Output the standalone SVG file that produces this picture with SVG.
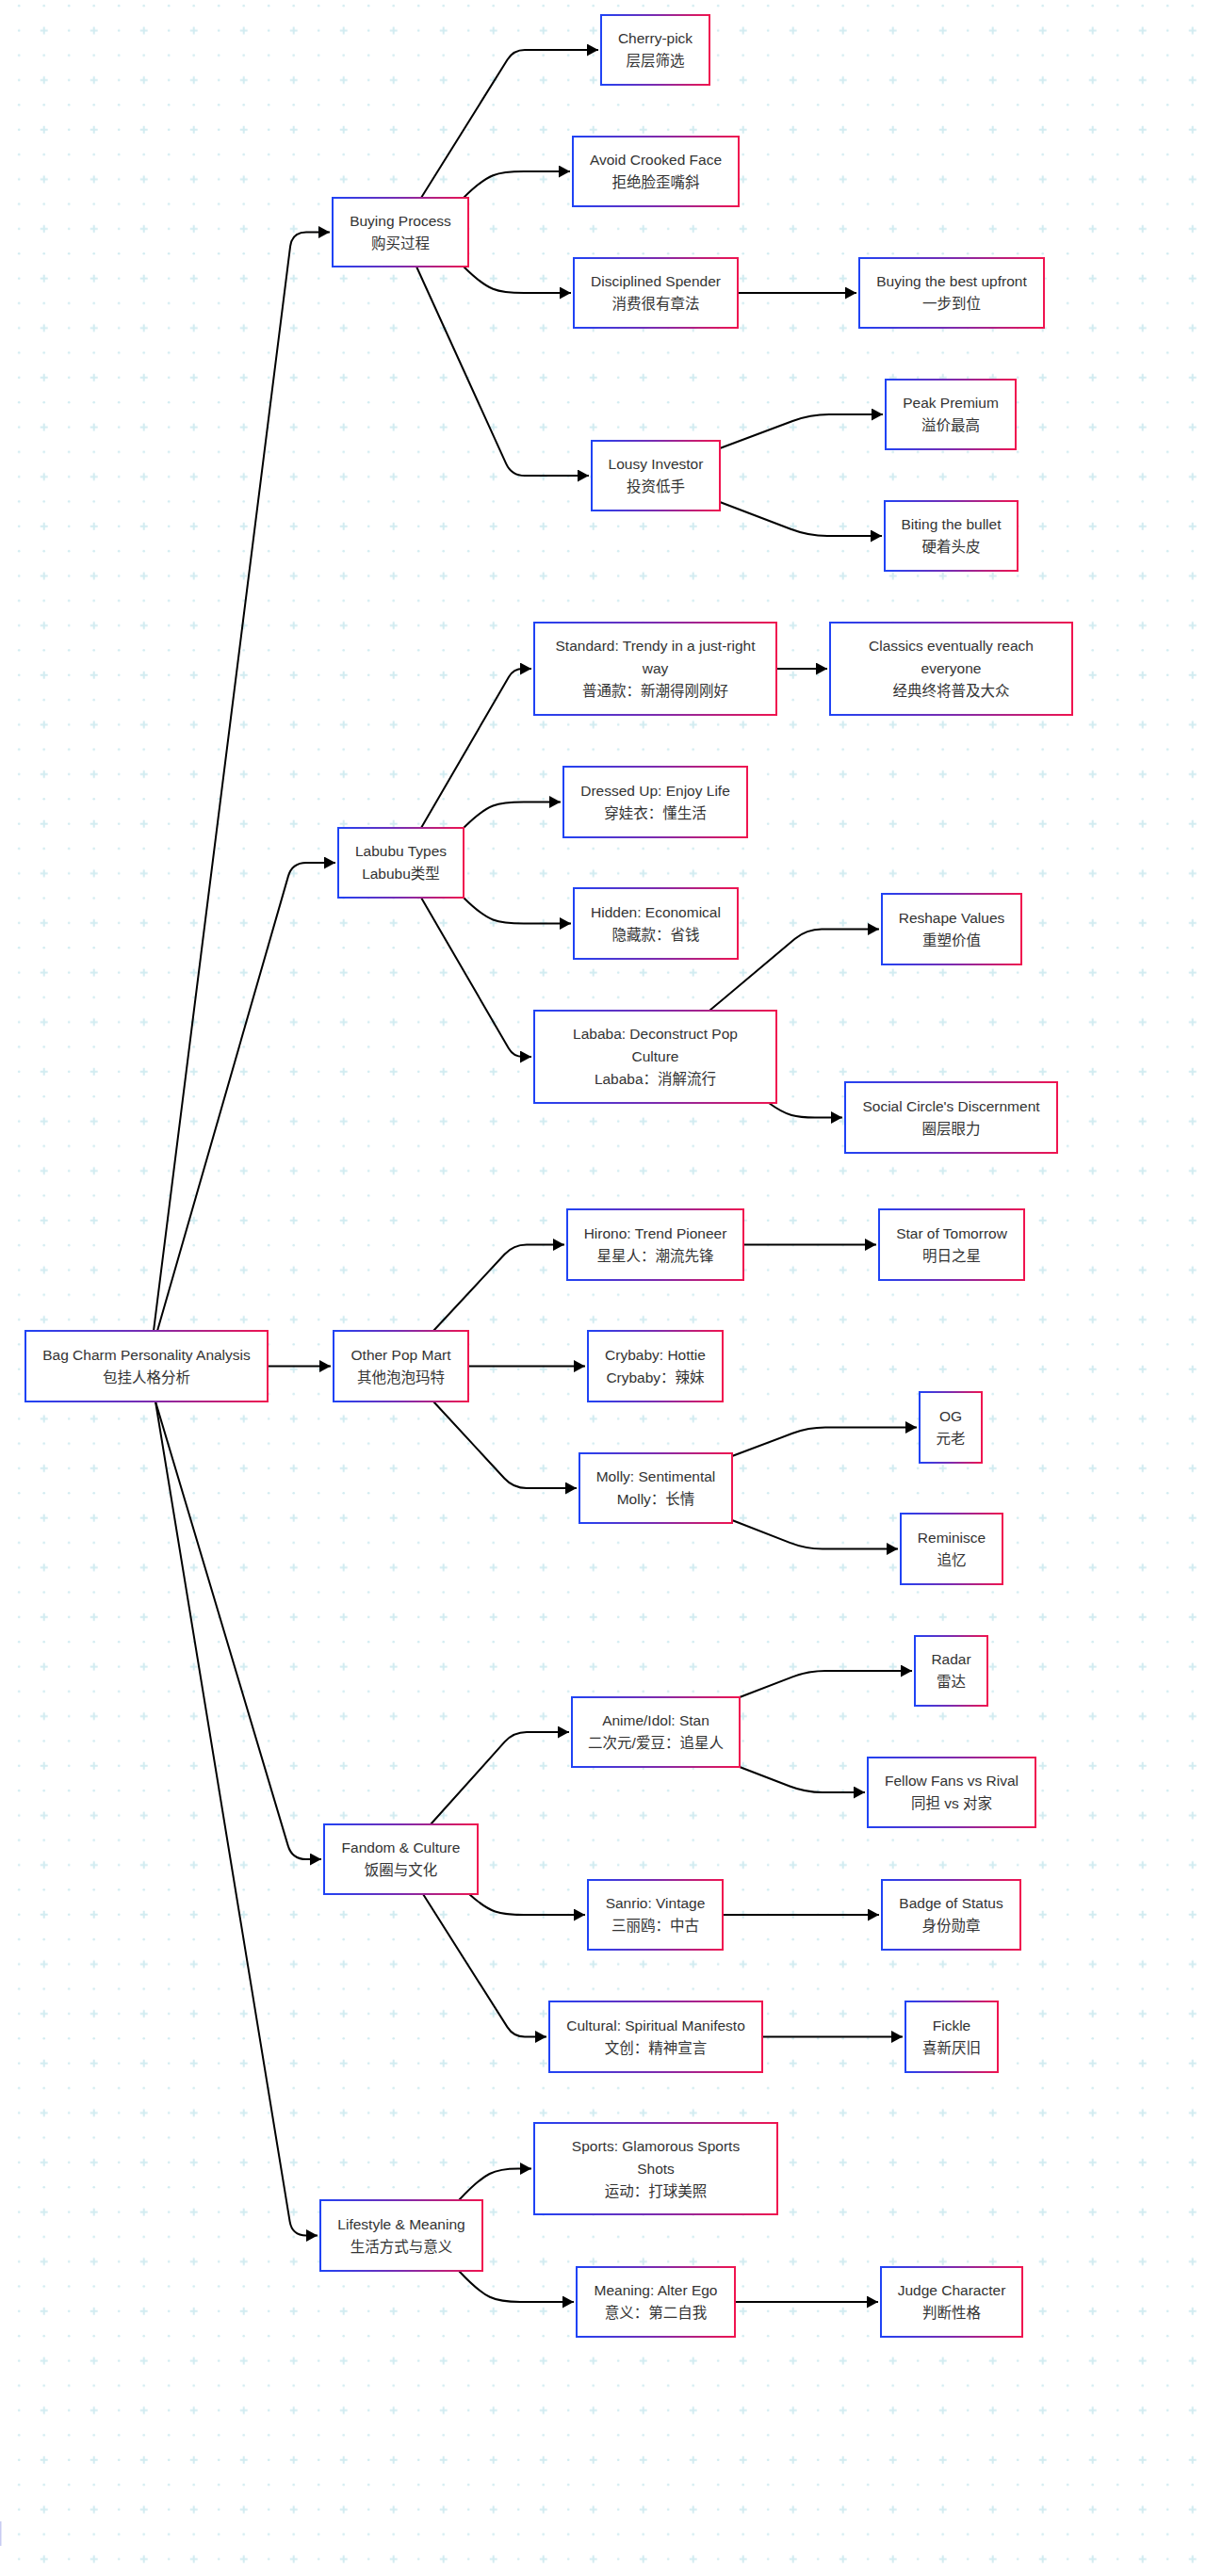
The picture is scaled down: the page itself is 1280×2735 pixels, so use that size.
<svg xmlns="http://www.w3.org/2000/svg" width="1280" height="2735" viewBox="0 0 1280 2735">
<style>
.nd rect{fill:#ffffff;stroke:url(#bd);stroke-width:2}
.nd text{font-family:"Liberation Sans",Arial,"Noto Sans CJK SC",sans-serif;font-size:15.5px;fill:#333333;text-anchor:middle}
.ed path{fill:none;stroke:#000000;stroke-width:2}
.ed .ar{marker-end:url(#ah)}
</style>
<defs>
<linearGradient id="bd" x1="0" y1="0" x2="1" y2="0">
<stop offset="0" stop-color="#1f43f5"/>
<stop offset="0.5" stop-color="#7a2bb0"/>
<stop offset="1" stop-color="#f0144f"/>
</linearGradient>
<pattern id="grid" patternUnits="userSpaceOnUse" x="6.95" y="-7.08" width="53" height="52.64">
<circle cx="13.25" cy="13.16" r="1.3" fill="#d2ecf1"/>
<circle cx="39.75" cy="13.16" r="1.3" fill="#d2ecf1"/>
<circle cx="13.25" cy="39.48" r="1.3" fill="#d2ecf1"/>
<path d="M35.75 39.48H43.75M39.75 35.48V43.48" stroke="#d2ecf1" stroke-width="2"/>
</pattern>
<marker id="ah" markerUnits="userSpaceOnUse" markerWidth="12" markerHeight="13" refX="12" refY="6.5" orient="auto">
<path d="M0,0 L12,6.5 L0,13 z" fill="#000000"/>
</marker>
</defs>
<rect x="0" y="0" width="1280" height="2735" fill="#ffffff"/>
<rect x="0" y="0" width="1280" height="2735" fill="url(#grid)"/>
<rect x="0" y="2677" width="1.5" height="26" fill="#c8cbf2"/>

<g id="connectors" class="ed">
<path class="ar" d="M163,1413 L308.1,261.4 Q310,246.5 325,246.5 L350,246.5"/>
<path class="ar" d="M167,1413 L305.9,930.4 Q310,916 325,916 L356,916"/>
<path class="ar" d="M284,1450.5 L351,1450.5"/>
<path class="ar" d="M165,1488 L305.7,1959.6 Q310,1974 325,1974 L341,1974"/>
<path class="ar" d="M165,1488 L307.6,2358.7 Q310,2373.5 325,2373.5 L337,2373.5"/>

<path class="ar" d="M447,210 L538.6,63.2 Q545,53 557,53 L635,53"/>
<path class="ar" d="M492,210 C518,184 528,182 556,182 L605,182"/>
<path class="ar" d="M492,283 C518,309 528,311 556,311 L606,311"/>
<path class="ar" d="M442,283 L537.2,492.3 Q543,505 557,505 L625,505"/>
<path class="ar" d="M783,311 L909,311"/>
<path class="ar" d="M764,476 L841.3,447 Q860,440 880,440 L937,440"/>
<path class="ar" d="M764,533 L839.3,561.8 Q858,569 878,569 L936,569"/>

<path class="ar" d="M447,879 L540,718.7 Q545,710 555,710 L564,710"/>
<path class="ar" d="M492,879 C518,853 528,851.5 556,851.5 L595,851.5"/>
<path class="ar" d="M492,953 C518,979 528,980.5 556,980.5 L606,980.5"/>
<path class="ar" d="M447,953 L540,1113.3 Q545,1122 555,1122 L564,1122"/>
<path class="ar" d="M824,710 L878,710"/>
<path class="ar" d="M753,1073 L843.7,996.8 Q856,986.5 872,986.5 L933,986.5"/>
<path class="ar" d="M816,1171 C835,1185 845,1186.5 865,1186.5 L894,1186.5"/>

<path class="ar" d="M460,1413 L535.5,1331.8 Q545,1321.5 559,1321.5 L599,1321.5"/>
<path class="ar" d="M497,1450.5 L621,1450.5"/>
<path class="ar" d="M460,1488 L535.5,1569.7 Q545,1580 559,1580 L612,1580"/>
<path class="ar" d="M789,1321.5 L930,1321.5"/>
<path class="ar" d="M777,1546 L841.2,1521.8 Q858,1515.5 876,1515.5 L973,1515.5"/>
<path class="ar" d="M777,1614 L838.2,1637.9 Q855,1644.5 873,1644.5 L953,1644.5"/>

<path class="ar" d="M457,1937 L535.6,1849.4 Q545,1839 559,1839 L604,1839"/>
<path class="ar" d="M498,2011 C520,2031 530,2033 556,2033 L621,2033"/>
<path class="ar" d="M449,2011 L538.6,2152.4 Q545,2162.5 557,2162.5 L580,2162.5"/>
<path class="ar" d="M785,1802 L841.2,1780.4 Q858,1774 876,1774 L968,1774"/>
<path class="ar" d="M785,1876 L838.2,1896.5 Q855,1903 873,1903 L918,1903"/>
<path class="ar" d="M767,2033 L933,2033"/>
<path class="ar" d="M809,2162.5 L958,2162.5"/>

<path class="ar" d="M487,2336 C515,2306 525,2302.5 550,2302.5 L564,2302.5"/>
<path class="ar" d="M487,2411 C515,2441 525,2444 552,2444 L609,2444"/>
<path class="ar" d="M780,2444 L932,2444"/>
</g>

<g id="root" class="nd"><rect x="27" y="1413" width="257" height="75"/><text x="155.5" y="1443.5">Bag Charm Personality Analysis</text><text x="155.5" y="1467.5">包挂人格分析</text></g>

<g id="buying" class="nd"><rect x="353" y="210" width="144" height="73"/><text x="425" y="239.5">Buying Process</text><text x="425" y="263.5">购买过程</text></g>
<g id="cherry" class="nd"><rect x="638" y="16" width="115" height="74"/><text x="695.5" y="46">Cherry-pick</text><text x="695.5" y="70">层层筛选</text></g>
<g id="avoid" class="nd"><rect x="608" y="145" width="176" height="74"/><text x="696" y="175">Avoid Crooked Face</text><text x="696" y="199">拒绝脸歪嘴斜</text></g>
<g id="disciplined" class="nd"><rect x="609" y="274" width="174" height="74"/><text x="696" y="304">Disciplined Spender</text><text x="696" y="328">消费很有章法</text></g>
<g id="bestupfront" class="nd"><rect x="912" y="274" width="196" height="74"/><text x="1010" y="304">Buying the best upfront</text><text x="1010" y="328">一步到位</text></g>
<g id="peak" class="nd"><rect x="940" y="403" width="138" height="74"/><text x="1009" y="433">Peak Premium</text><text x="1009" y="457">溢价最高</text></g>
<g id="lousy" class="nd"><rect x="628" y="468" width="136" height="74"/><text x="696" y="498">Lousy Investor</text><text x="696" y="522">投资低手</text></g>
<g id="biting" class="nd"><rect x="939" y="532" width="141" height="74"/><text x="1009.5" y="562">Biting the bullet</text><text x="1009.5" y="586">硬着头皮</text></g>

<g id="labubu" class="nd"><rect x="359" y="879" width="133" height="74"/><text x="425.5" y="909">Labubu Types</text><text x="425.5" y="933">Labubu类型</text></g>
<g id="standard" class="nd"><rect x="567" y="661" width="257" height="98"/><text x="695.5" y="691">Standard: Trendy in a just-right</text><text x="695.5" y="715">way</text><text x="695.5" y="739">普通款：新潮得刚刚好</text></g>
<g id="classics" class="nd"><rect x="881" y="661" width="257" height="98"/><text x="1009.5" y="691">Classics eventually reach</text><text x="1009.5" y="715">everyone</text><text x="1009.5" y="739">经典终将普及大众</text></g>
<g id="dressed" class="nd"><rect x="598" y="814" width="195" height="75"/><text x="695.5" y="844.5">Dressed Up: Enjoy Life</text><text x="695.5" y="868.5">穿娃衣：懂生活</text></g>
<g id="hidden" class="nd"><rect x="609" y="943" width="174" height="75"/><text x="696" y="973.5">Hidden: Economical</text><text x="696" y="997.5">隐藏款：省钱</text></g>
<g id="lababa" class="nd"><rect x="567" y="1073" width="257" height="98"/><text x="695.5" y="1103">Lababa: Deconstruct Pop</text><text x="695.5" y="1127">Culture</text><text x="695.5" y="1151">Lababa：消解流行</text></g>
<g id="reshape" class="nd"><rect x="936" y="949" width="148" height="75"/><text x="1010" y="979.5">Reshape Values</text><text x="1010" y="1003.5">重塑价值</text></g>
<g id="social" class="nd"><rect x="897" y="1149" width="225" height="75"/><text x="1009.5" y="1179.5">Social Circle's Discernment</text><text x="1009.5" y="1203.5">圈层眼力</text></g>

<g id="otherpm" class="nd"><rect x="354" y="1413" width="143" height="75"/><text x="425.5" y="1443.5">Other Pop Mart</text><text x="425.5" y="1467.5">其他泡泡玛特</text></g>
<g id="hirono" class="nd"><rect x="602" y="1284" width="187" height="75"/><text x="695.5" y="1314.5">Hirono: Trend Pioneer</text><text x="695.5" y="1338.5">星星人：潮流先锋</text></g>
<g id="star" class="nd"><rect x="933" y="1284" width="154" height="75"/><text x="1010" y="1314.5">Star of Tomorrow</text><text x="1010" y="1338.5">明日之星</text></g>
<g id="crybaby" class="nd"><rect x="624" y="1413" width="143" height="75"/><text x="695.5" y="1443.5">Crybaby: Hottie</text><text x="695.5" y="1467.5">Crybaby：辣妹</text></g>
<g id="og" class="nd"><rect x="976" y="1478" width="66" height="75"/><text x="1009" y="1508.5">OG</text><text x="1009" y="1532.5">元老</text></g>
<g id="molly" class="nd"><rect x="615" y="1543" width="162" height="74"/><text x="696" y="1573">Molly: Sentimental</text><text x="696" y="1597">Molly：长情</text></g>
<g id="reminisce" class="nd"><rect x="956" y="1607" width="108" height="75"/><text x="1010" y="1637.5">Reminisce</text><text x="1010" y="1661.5">追忆</text></g>

<g id="fandom" class="nd"><rect x="344" y="1937" width="163" height="74"/><text x="425.5" y="1967">Fandom &amp; Culture</text><text x="425.5" y="1991">饭圈与文化</text></g>
<g id="anime" class="nd"><rect x="607" y="1802" width="178" height="74"/><text x="696" y="1832">Anime/Idol: Stan</text><text x="696" y="1856">二次元/爱豆：追星人</text></g>
<g id="radar" class="nd"><rect x="971" y="1737" width="77" height="74"/><text x="1009.5" y="1767">Radar</text><text x="1009.5" y="1791">雷达</text></g>
<g id="fellow" class="nd"><rect x="921" y="1866" width="178" height="74"/><text x="1010" y="1896">Fellow Fans vs Rival</text><text x="1010" y="1920">同担 vs 对家</text></g>
<g id="sanrio" class="nd"><rect x="624" y="1996" width="143" height="74"/><text x="695.5" y="2026">Sanrio: Vintage</text><text x="695.5" y="2050">三丽鸥：中古</text></g>
<g id="badge" class="nd"><rect x="936" y="1996" width="147" height="74"/><text x="1009.5" y="2026">Badge of Status</text><text x="1009.5" y="2050">身份勋章</text></g>
<g id="cultural" class="nd"><rect x="583" y="2125" width="226" height="75"/><text x="696" y="2155.5">Cultural: Spiritual Manifesto</text><text x="696" y="2179.5">文创：精神宣言</text></g>
<g id="fickle" class="nd"><rect x="961" y="2125" width="98" height="75"/><text x="1010" y="2155.5">Fickle</text><text x="1010" y="2179.5">喜新厌旧</text></g>

<g id="lifestyle" class="nd"><rect x="340" y="2336" width="172" height="75"/><text x="426" y="2366.5">Lifestyle &amp; Meaning</text><text x="426" y="2390.5">生活方式与意义</text></g>
<g id="sports" class="nd"><rect x="567" y="2254" width="258" height="97"/><text x="696" y="2284">Sports: Glamorous Sports</text><text x="696" y="2308">Shots</text><text x="696" y="2332">运动：打球美照</text></g>
<g id="meaning" class="nd"><rect x="612" y="2407" width="168" height="74"/><text x="696" y="2437">Meaning: Alter Ego</text><text x="696" y="2461">意义：第二自我</text></g>
<g id="judge" class="nd"><rect x="935" y="2407" width="150" height="74"/><text x="1010" y="2437">Judge Character</text><text x="1010" y="2461">判断性格</text></g>
</svg>
